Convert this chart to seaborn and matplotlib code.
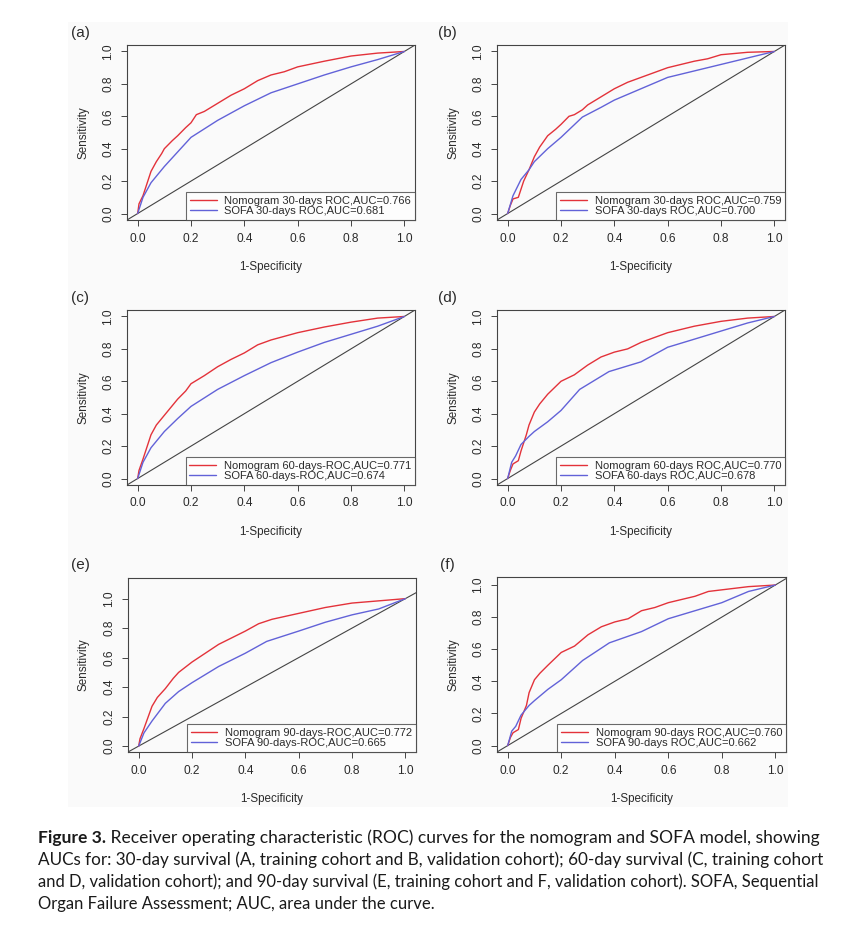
import numpy as np
import pandas as pd
import matplotlib
matplotlib.use("Agg")
import matplotlib.pyplot as plt
from matplotlib.patches import Rectangle
import seaborn as sns

# ---------------- data ----------------
panel_tags = ["(a)", "(b)", "(c)", "(d)", "(e)", "(f)"]

a_nom_x = [0, 0.005, 0.02, 0.03, 0.05, 0.07, 0.09, 0.10, 0.13, 0.15, 0.18, 0.20, 0.22, 0.25, 0.28, 0.30, 0.35, 0.40, 0.45, 0.50, 0.55, 0.60, 0.70, 0.80, 0.90, 1.0]
a_nom_y = [0, 0.06, 0.11, 0.16, 0.26, 0.32, 0.37, 0.40, 0.45, 0.48, 0.53, 0.56, 0.61, 0.63, 0.66, 0.68, 0.73, 0.77, 0.82, 0.855, 0.875, 0.905, 0.94, 0.972, 0.99, 1.0]
a_sofa_x = [0, 0.02, 0.05, 0.10, 0.15, 0.20, 0.30, 0.40, 0.50, 0.60, 0.70, 0.80, 0.90, 1.0]
a_sofa_y = [0, 0.10, 0.19, 0.29, 0.38, 0.47, 0.575, 0.665, 0.745, 0.80, 0.855, 0.905, 0.95, 1.0]

b_nom_x = [0, 0.01, 0.02, 0.04, 0.05, 0.06, 0.08, 0.10, 0.12, 0.15, 0.18, 0.20, 0.23, 0.25, 0.28, 0.30, 0.35, 0.40, 0.45, 0.50, 0.55, 0.60, 0.65, 0.70, 0.75, 0.80, 0.90, 1.0]
b_nom_y = [0, 0.05, 0.09, 0.10, 0.15, 0.20, 0.27, 0.35, 0.41, 0.48, 0.52, 0.55, 0.60, 0.61, 0.64, 0.67, 0.72, 0.77, 0.81, 0.84, 0.87, 0.90, 0.92, 0.94, 0.955, 0.98, 0.995, 1.0]
b_sofa_x = [0, 0.02, 0.05, 0.08, 0.10, 0.15, 0.20, 0.28, 0.35, 0.40, 0.50, 0.60, 0.70, 0.80, 0.90, 1.0]
b_sofa_y = [0, 0.11, 0.21, 0.27, 0.32, 0.40, 0.47, 0.595, 0.655, 0.70, 0.77, 0.84, 0.88, 0.92, 0.96, 1.0]

c_nom_x = [0, 0.005, 0.02, 0.05, 0.07, 0.10, 0.13, 0.15, 0.18, 0.20, 0.25, 0.30, 0.35, 0.40, 0.45, 0.50, 0.60, 0.70, 0.80, 0.90, 1.0]
c_nom_y = [0, 0.05, 0.12, 0.27, 0.33, 0.39, 0.45, 0.49, 0.54, 0.585, 0.635, 0.69, 0.735, 0.775, 0.825, 0.855, 0.90, 0.935, 0.965, 0.99, 1.0]
c_sofa_x = [0, 0.02, 0.05, 0.10, 0.15, 0.20, 0.30, 0.40, 0.50, 0.60, 0.70, 0.80, 0.90, 1.0]
c_sofa_y = [0, 0.10, 0.19, 0.29, 0.37, 0.445, 0.55, 0.635, 0.715, 0.78, 0.84, 0.89, 0.94, 1.0]

d_nom_x = [0, 0.01, 0.02, 0.04, 0.05, 0.07, 0.08, 0.10, 0.12, 0.15, 0.20, 0.25, 0.30, 0.35, 0.40, 0.45, 0.50, 0.55, 0.60, 0.70, 0.80, 0.90, 1.0]
d_nom_y = [0, 0.05, 0.09, 0.11, 0.17, 0.27, 0.33, 0.41, 0.46, 0.52, 0.60, 0.64, 0.70, 0.75, 0.78, 0.80, 0.84, 0.87, 0.90, 0.94, 0.97, 0.99, 1.0]
d_sofa_x = [0, 0.015, 0.03, 0.05, 0.08, 0.10, 0.15, 0.20, 0.27, 0.33, 0.38, 0.50, 0.60, 0.70, 0.80, 0.90, 1.0]
d_sofa_y = [0, 0.10, 0.14, 0.21, 0.26, 0.29, 0.35, 0.42, 0.55, 0.61, 0.66, 0.72, 0.81, 0.86, 0.91, 0.96, 1.0]

e_nom_x = [0, 0.005, 0.02, 0.05, 0.07, 0.10, 0.13, 0.15, 0.20, 0.25, 0.30, 0.35, 0.40, 0.45, 0.50, 0.60, 0.70, 0.80, 0.90, 1.0]
e_nom_y = [0, 0.05, 0.12, 0.27, 0.33, 0.39, 0.46, 0.50, 0.57, 0.63, 0.69, 0.735, 0.78, 0.83, 0.86, 0.90, 0.94, 0.97, 0.985, 1.0]
e_sofa_x = [0, 0.02, 0.05, 0.10, 0.15, 0.20, 0.30, 0.40, 0.48, 0.60, 0.70, 0.80, 0.90, 1.0]
e_sofa_y = [0, 0.09, 0.17, 0.29, 0.37, 0.43, 0.54, 0.63, 0.71, 0.78, 0.84, 0.89, 0.93, 1.0]

f_nom_x = [0, 0.01, 0.02, 0.04, 0.05, 0.07, 0.08, 0.10, 0.12, 0.15, 0.20, 0.25, 0.30, 0.35, 0.40, 0.45, 0.50, 0.55, 0.60, 0.70, 0.75, 0.80, 0.90, 1.0]
f_nom_y = [0, 0.05, 0.08, 0.10, 0.17, 0.25, 0.33, 0.41, 0.45, 0.50, 0.58, 0.62, 0.69, 0.74, 0.77, 0.79, 0.84, 0.86, 0.89, 0.93, 0.96, 0.97, 0.99, 1.0]
f_sofa_x = [0, 0.015, 0.03, 0.05, 0.08, 0.10, 0.15, 0.20, 0.28, 0.38, 0.50, 0.60, 0.70, 0.80, 0.90, 1.0]
f_sofa_y = [0, 0.09, 0.12, 0.19, 0.25, 0.28, 0.35, 0.41, 0.53, 0.64, 0.71, 0.79, 0.84, 0.89, 0.96, 1.0]

nom_labels = ["Nomogram 30-days ROC,AUC=0.766", "Nomogram 30-days ROC,AUC=0.759",
              "Nomogram 60-days-ROC,AUC=0.771", "Nomogram 60-days ROC,AUC=0.770",
              "Nomogram 90-days-ROC,AUC=0.772", "Nomogram 90-days ROC,AUC=0.760"]
sofa_labels = ["SOFA 30-days ROC,AUC=0.681", "SOFA 30-days ROC,AUC=0.700",
               "SOFA 60-days-ROC,AUC=0.674", "SOFA 60-days ROC,AUC=0.678",
               "SOFA 90-days-ROC,AUC=0.665", "SOFA 90-days ROC,AUC=0.662"]

x_ticks = [0.0, 0.2, 0.4, 0.6, 0.8, 1.0]
y_ticks = [0.0, 0.2, 0.4, 0.6, 0.8, 1.0]

caption_bold = "Figure 3."
caption_lines = [
    " Receiver operating characteristic (ROC) curves for the nomogram and SOFA model, showing",
    "AUCs for: 30-day survival (A, training cohort and B, validation cohort); 60-day survival (C, training cohort",
    "and D, validation cohort); and 90-day survival (E, training cohort and F, validation cohort). SOFA, Sequential",
    "Organ Failure Assessment; AUC, area under the curve.",
]

nom_xs = [a_nom_x, b_nom_x, c_nom_x, d_nom_x, e_nom_x, f_nom_x]
nom_ys = [a_nom_y, b_nom_y, c_nom_y, d_nom_y, e_nom_y, f_nom_y]
sofa_xs = [a_sofa_x, b_sofa_x, c_sofa_x, d_sofa_x, e_sofa_x, f_sofa_x]
sofa_ys = [a_sofa_y, b_sofa_y, c_sofa_y, d_sofa_y, e_sofa_y, f_sofa_y]

# ---------------- style ----------------
sns.set_theme(style="white")
plt.rcParams["font.family"] = ["Liberation Sans", "DejaVu Sans"]
TXT = "#2b2b2b"
RED = "#e3323a"
BLUE = "#6262d8"

W, H = 861, 925
fig = plt.figure(figsize=(W / 100, H / 100), dpi=100)
fig.patch.set_facecolor("white")

# very light grey image background
fig.patches.append(Rectangle((68 / W, 1 - 807 / H), (788 - 68) / W, (807 - 22) / H,
                             transform=fig.transFigure, facecolor="#fafafa",
                             edgecolor="none", zorder=-10))

# axes boxes in pixel coords: (left, top, right, bottom)
boxes = [(127, 45, 415, 220), (497, 45, 785, 220),
         (127, 310, 415, 485), (497, 310, 785, 485),
         (128, 578, 416, 752), (497, 577, 786, 752)]
ylims = [(-0.04, 1.04), (-0.04, 1.04), (-0.04, 1.04), (-0.04, 1.04), (-0.04, 1.14), (-0.04, 1.05)]
tag_pos = [(80, 33), (447, 33), (80, 298), (447, 298), (80, 565), (447, 565)]

def px2fig(x, y):
    return x / W, 1 - y / H

for i in range(6):
    l, t, r, b = boxes[i]
    ax = fig.add_axes([l / W, 1 - b / H, (r - l) / W, (b - t) / H])
    ax.set_facecolor("none")
    df_n = pd.DataFrame({"fpr": nom_xs[i], "tpr": nom_ys[i]})
    df_s = pd.DataFrame({"fpr": sofa_xs[i], "tpr": sofa_ys[i]})
    sns.lineplot(data=df_n, x="fpr", y="tpr", sort=False, estimator=None, ax=ax,
                 color=RED, lw=1.0, label=nom_labels[i])
    sns.lineplot(data=df_s, x="fpr", y="tpr", sort=False, estimator=None, ax=ax,
                 color=BLUE, lw=1.0, label=sofa_labels[i])
    ax.axline((0, 0), slope=1, color="#444444", lw=0.8, zorder=1)
    ax.set_xlim(-0.04, 1.04)
    ax.set_ylim(*ylims[i])
    ax.set_xticks(x_ticks)
    ax.set_yticks(y_ticks)
    ax.set_xticklabels([f"{v:.1f}" for v in x_ticks])
    ax.set_yticklabels([f"{v:.1f}" for v in y_ticks])
    ax.set_xlabel("")
    ax.set_ylabel("")
    ax.tick_params(axis="both", direction="out", length=4, width=0.7, colors="#444444",
                   labelcolor=TXT, labelsize=8.6, pad=5, bottom=True, left=True)
    for lab in ax.get_yticklabels():
        lab.set_rotation(90)
        lab.set_va("center")
    for sp in ax.spines.values():
        sp.set_color("#444444")
        sp.set_linewidth(0.8)
    leg = ax.legend(loc="lower right", bbox_to_anchor=(1, 0), borderaxespad=0,
                    fancybox=False, frameon=True, fontsize=8, handlelength=2.4,
                    handletextpad=0.7, borderpad=0.35, labelspacing=0.05)
    leg.get_frame().set_edgecolor("#444444")
    leg.get_frame().set_linewidth(0.8)
    leg.get_frame().set_facecolor("white")
    for txt in leg.get_texts():
        txt.set_color(TXT)
    fx, fy = px2fig(*tag_pos[i])
    fig.text(fx, fy, panel_tags[i], fontsize=11, color=TXT, ha="center", va="center")
    fx, fy = px2fig(l - 44, (t + b) / 2)
    fig.text(fx, fy, "Sensitivity", rotation=90, fontsize=8.4, color=TXT, ha="center", va="center")
    fx, fy = px2fig((l + r) / 2, b + 47)
    fig.text(fx, fy, "1-Specificity", fontsize=8.4, color=TXT, ha="center", va="center")

# ---------------- caption ----------------
cap_font = ["Lato", "DejaVu Sans"]
base_size = 12.0
line_y = [838, 860, 882, 904]
line_right = [815, 818, 818, None]
renderer = fig.canvas.get_renderer()

x0, y0 = px2fig(38, line_y[0])
tb = fig.text(x0, y0, caption_bold, fontsize=base_size, fontweight="bold", family=cap_font,
              color="#1a1a1a", ha="left", va="center")
t1 = fig.text(0, y0, caption_lines[0], fontsize=base_size, family=cap_font,
              color="#1a1a1a", ha="left", va="center")
# fit first line width
w_b = tb.get_window_extent(renderer=renderer).width
w_1 = t1.get_window_extent(renderer=renderer).width
s1 = base_size * (line_right[0] - 38) / (w_b + w_1)
tb.set_fontsize(s1)
t1.set_fontsize(s1)
bb = tb.get_window_extent(renderer=renderer)
t1.set_x(bb.x1 / W)

last_size = base_size
for k in range(1, 4):
    x, y = px2fig(38, line_y[k])
    tk = fig.text(x, y, caption_lines[k], fontsize=base_size, family=cap_font,
                  color="#1a1a1a", ha="left", va="center")
    if line_right[k] is not None:
        wk = tk.get_window_extent(renderer=renderer).width
        last_size = base_size * (line_right[k] - 38) / wk
    tk.set_fontsize(last_size)

fig.savefig("out.png", dpi=100, facecolor="white")
